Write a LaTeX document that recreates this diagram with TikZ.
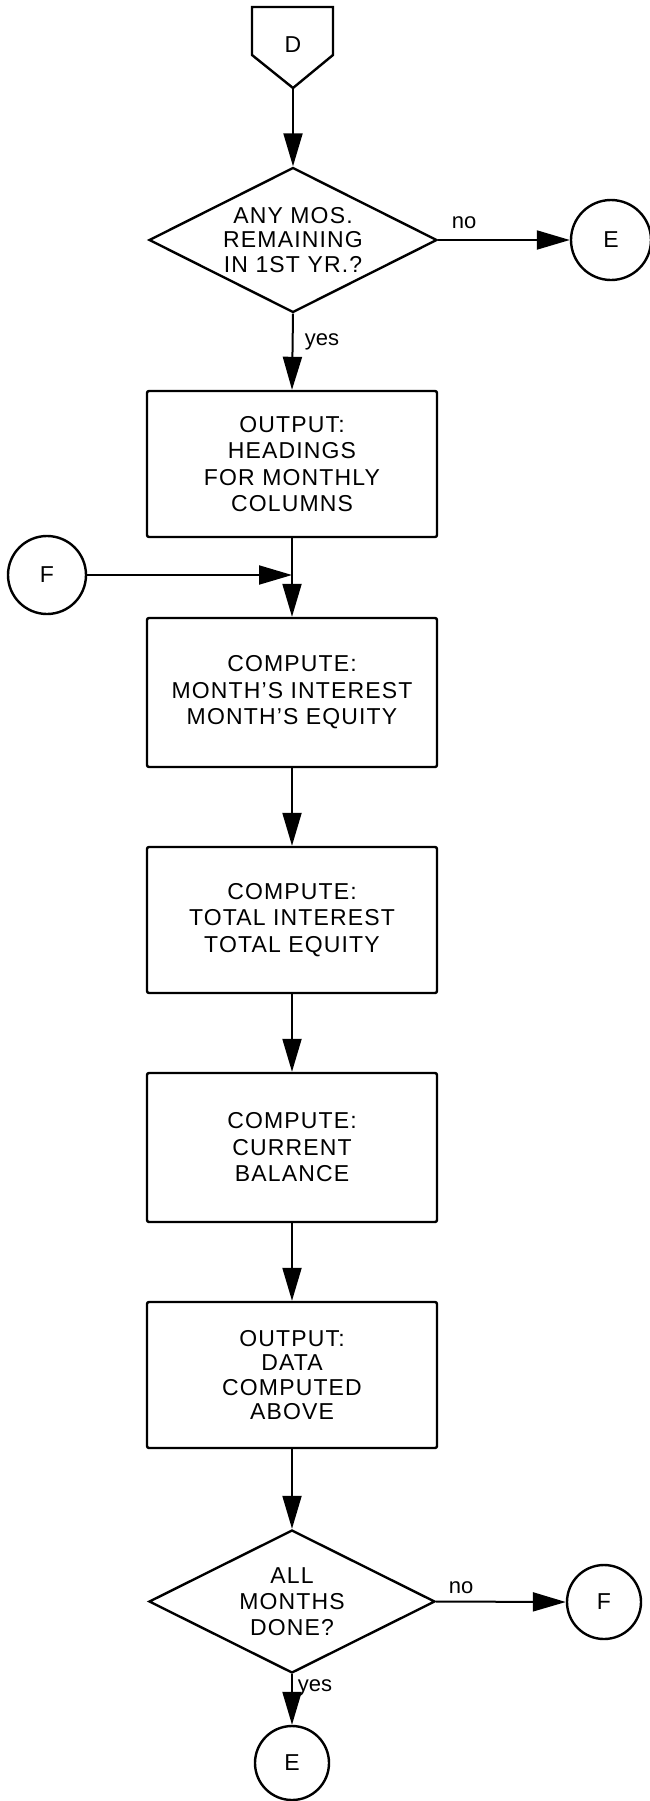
\documentclass[tikz,border=0pt]{standalone}
\usepackage{fontspec}
\setmainfont{Liberation Sans}
\newfontfamily\boxfont{Liberation Sans}[LetterSpace=5]
\usetikzlibrary{shapes.geometric,arrows.meta}
\begin{document}
\begin{tikzpicture}[x=1pt,y=-1pt,
  proc/.style={draw, line width=2.4pt, rounded corners=2pt, minimum width=290pt, align=center, font=\boxfont\fontsize{23}{26.5}\selectfont, inner sep=0pt},
  decis/.style={draw, diamond, line width=2.4pt, aspect=2, inner sep=0pt, align=center, font=\boxfont\fontsize{23}{24.5}\selectfont},
  conn/.style={draw, circle, line width=2.4pt, inner sep=0pt, font=\fontsize{23}{26}\selectfont},
  flow/.style={line width=2pt, -{Triangle[length=33pt,width=19pt]}},
  lbl/.style={font=\fontsize{22}{24}\selectfont, anchor=base, inner sep=0pt}
]
\useasboundingbox (0,0) rectangle (649,1801);

% off-page connector D
\draw[line width=2.4pt, line join=miter] (252,7) -- (333,7) -- (333,55) -- (293,88) -- (252,55) -- cycle;
\node[font=\fontsize{23}{26}\selectfont] (D) at (293,45) {D};
\coordinate (Dtip) at (293,88);

% first decision
\node[decis, minimum width=288pt, minimum height=145pt] (d1) at (293,240) {ANY MOS.\\REMAINING\\IN 1ST YR.?};
\node[conn, minimum size=80pt] (E1) at (611,240) {E};

% boxes
\node[proc, minimum height=146pt] (b1) at (292,464) {OUTPUT:\\HEADINGS\\FOR MONTHLY\\COLUMNS};
\node[proc, minimum height=149pt] (b2) at (292,692.5) {COMPUTE:\\MONTH’S INTEREST\\MONTH’S EQUITY};
\node[proc, minimum height=146pt] (b3) at (292,920) {COMPUTE:\\TOTAL INTEREST\\TOTAL EQUITY};
\node[proc, minimum height=149pt] (b4) at (292,1147.5) {COMPUTE:\\CURRENT\\BALANCE};
\node[proc, minimum height=146pt, font=\boxfont\fontsize{23}{24.5}\selectfont] (b5) at (292,1375) {OUTPUT:\\DATA\\COMPUTED\\ABOVE};

\node[conn, minimum size=78pt] (F1) at (47,575) {F};
\coordinate (J) at (b1.south |- F1.east);

% second decision
\node[decis, minimum width=286pt, minimum height=143pt, font=\boxfont\fontsize{23}{26}\selectfont] (d2) at (292,1601.5) {ALL\\MONTHS\\DONE?};
\node[conn, minimum size=74pt] (F2) at (604,1602) {F};
\node[conn, minimum size=74pt] (E2) at (292,1763) {E};

% connectors
\draw[flow] (Dtip) -- (d1.north);
\draw[flow] (d1.east) -- (E1.west);
\draw[flow] (d1.south) -- (b1.north);
\draw[flow] (b1.south) -- (b2.north);
\draw[flow] (F1.east) -- (J);
\draw[flow] (b2.south) -- (b3.north);
\draw[flow] (b3.south) -- (b4.north);
\draw[flow] (b4.south) -- (b5.north);
\draw[flow] (b5.south) -- (d2.north);
\draw[flow] (d2.east) -- (F2.west);
\draw[flow] (d2.south) -- (E2.north);

% labels
\node[lbl] (no1) at (464,228) {no};
\node[lbl] (yes1) at (322,345) {yes};
\node[lbl] (no2) at (461,1593) {no};
\node[lbl] (yes2) at (315,1691) {yes};
\end{tikzpicture}
\end{document}
